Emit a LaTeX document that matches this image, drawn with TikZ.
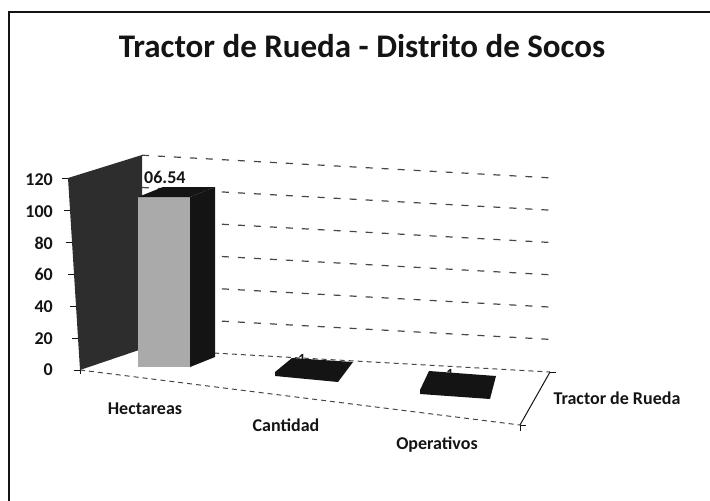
\documentclass[tikz,border=0pt]{standalone}
\usepackage{fontspec}
\setmainfont{Carlito}
\usepackage{xcolor}
\usepackage{tikz}
\usetikzlibrary{positioning, calc}
\definecolor{scanblack}{RGB}{20,20,20}
\definecolor{walldark}{RGB}{45,45,45}
\definecolor{barlight}{RGB}{170,170,170}
\definecolor{griddash}{RGB}{70,70,70}
\tikzset{
  lbl/.style={font=\fontsize{18}{21}\selectfont\bfseries, text=scanblack, inner sep=0pt},
  vallbl/.style={font=\fontsize{14}{16}\selectfont\bfseries, text=scanblack, inner sep=0pt},
  grid/.style={griddash, line width=1.2pt, dash pattern=on 7pt off 9pt},
  floorline/.style={griddash, line width=1pt, dash pattern=on 5pt off 4pt},
  tick/.style={scanblack, line width=1pt}
}

\begin{document}
\begin{tikzpicture}[x=1pt, y=-1pt]
\useasboundingbox (0,0) rectangle (710,501);
% Frame
\draw[scanblack, line width=2pt] (9,520) -- (9,12) -- (720,12);

% Title
\node[font=\fontsize{33}{39}\selectfont\bfseries, text=scanblack, inner sep=0pt] (title) at (362,46) {Tractor de Rueda - Distrito de Socos};

% Floor corners
\coordinate (fl) at (80,370);
\coordinate (fr) at (520,425);
\coordinate (br) at (550,372);
\coordinate (bl) at (142,349);
\coordinate (wtf) at (68,178);
\coordinate (wtb) at (142,155);

% Back wall gridlines
\foreach \i in {1,...,6}
  \draw[grid] ($(bl)+(0,-\i*32.3)$) -- ($(br)+(6,-\i*32.3)$);

% Floor
\draw[floorline] (fl) -- (fr);
\draw[floorline] (bl) -- (br);
\draw[tick] (br) -- (fr);
\draw[tick] (br) -- ++(6,0);
\draw[tick] (fr) -- ++(6,0);
\draw[tick] (fr) -- ++(0,6);

% Side wall
\fill[walldark] (fl) -- (wtf) -- (wtb) -- (bl) -- cycle;

% Value axis
\foreach \v [count=\i from 0] in {0,20,...,120} {
  \node[lbl, anchor=east] (yl\v) at (53,370-\i*31.7) {\v};
  \draw[tick] (80-\i*2,370-\i*32) -- ++(-6,0);
}
\draw[tick] (fl) -- ++(0,4);

% Hectareas bar
\node[lbl, anchor=west] (vhect) at (144,177) {06.54};
\fill[barlight] (138,197) rectangle (190,367);
\fill[scanblack] (190,197) -- (215,187) -- (215,357) -- (190,367) -- cycle;
\fill[scanblack] (138,197) -- (163,187) -- (215,187) -- (190,197) -- cycle;

% Cantidad bar
\node[vallbl] (vcant) at (302,359) {1};
\fill[scanblack] (275,372) -- (292,358) -- (353,362) -- (338,382) -- (275,376) -- cycle;

% Operativos bar
\node[vallbl] (voper) at (450,374) {1};
\fill[scanblack] (420,390) -- (429,371) -- (496,376) -- (490,399) -- (420,394) -- cycle;

% Category labels
\node[lbl] (hect) at (145,409) {Hectareas};
\node[lbl] (cant) at (286,425) {Cantidad};
\node[lbl] (oper) at (437,445) {Operativos};
\node[lbl] (serie) at (617,398) {Tractor de Rueda};
\end{tikzpicture}
\end{document}
